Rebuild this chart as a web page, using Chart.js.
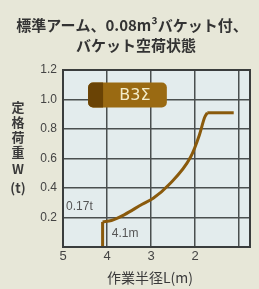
<!DOCTYPE html>
<html>
<head>
<meta charset="utf-8">
<script src="https://cdn.jsdelivr.net/npm/chart.js@4"></script>
<style>
  html, body { margin: 0; padding: 0; background: #e7e7d8; }
  #wrap { width: 259px; height: 289px; }
</style>
</head>
<body>
<div id="wrap"><canvas id="loadChart" width="259" height="289"></canvas></div>
<script>
// rated load vs working radius (B3 sigma)
var radiusCurve = [4.1, 3.9, 3.6, 3.2, 2.95, 2.6, 2.1, 1.9, 1.78, 1.72];
var loadCurve   = [0.17, 0.18, 0.22, 0.29, 0.33, 0.42, 0.61, 0.76, 0.88, 0.91];
var radiusStart = [4.1, 4.1];
var loadStart   = [0, 0.17];
var radiusFlat  = [1.72, 1.12];
var loadFlat    = [0.91, 0.91];
var xTicks = [5, 4, 3, 2, 1];
var yTicks = [0, 0.2, 0.4, 0.6, 0.8, 1.0, 1.2];

var titleLines = ['標準アーム、0.08m³バケット付、', 'バケット空荷状態'];
var yTitle = ['定', '格', '荷', '重', 'W', '(t)'];
var xTitle = '作業半径L(m)';

function pts(xs, ys) {
  return xs.map(function (x, i) { return { x: x, y: ys[i] }; });
}

var brown = '#8a5a0c';
var jp = '"Noto Sans CJK JP", "Noto Sans", sans-serif';

var decor = {
  id: 'decor',
  beforeDraw: function (chart) {
    var a = chart.chartArea, ctx = chart.ctx;
    ctx.save();
    ctx.fillStyle = '#e3eced';
    ctx.fillRect(a.left, a.top, a.right - a.left, a.bottom - a.top);
    ctx.restore();
  },
  afterDraw: function (chart) {
    var a = chart.chartArea, ctx = chart.ctx;
    var xs = chart.scales.x, ys = chart.scales.y;
    ctx.save();
    // frame
    ctx.strokeStyle = '#3a3d3d';
    ctx.lineWidth = 2;
    ctx.strokeRect(a.left, a.top, a.right - a.left, a.bottom - a.top);

    // title
    ctx.fillStyle = '#333';
    ctx.textAlign = 'center';
    ctx.textBaseline = 'middle';
    ctx.font = 'bold 15px ' + jp;
    ctx.fillText(titleLines[0], 132, 25);
    ctx.fillText(titleLines[1], 136, 45);

    // y title stacked
    ctx.font = 'bold 13px ' + jp;
    ctx.fillStyle = '#3a3a3a';
    var yy = [107, 122, 137, 152, 169, 188];
    yTitle.forEach(function (c, i) { ctx.fillText(c, 18, yy[i]); });

    // x title
    ctx.font = '14px ' + jp;
    ctx.fillText(xTitle, 150, 278);

    // badge
    var bl = xs.getPixelForValue(4.43), br = xs.getPixelForValue(2.64);
    var bt = ys.getPixelForValue(1.115), bb = ys.getPixelForValue(0.946);
    ctx.fillStyle = '#9a6a12';
    ctx.beginPath();
    ctx.roundRect(bl, bt, br - bl, bb - bt, 5);
    ctx.fill();
    ctx.fillStyle = '#6a4305';
    ctx.beginPath();
    ctx.roundRect(bl, bt, 15, bb - bt, [5, 0, 0, 5]);
    ctx.fill();
    ctx.fillStyle = '#f3ecc8';
    ctx.font = '16px "DejaVu Sans", sans-serif';
    ctx.fillText('B3Σ', (bl + 15 + br) / 2, (bt + bb) / 2 + 1);

    // value notes
    ctx.fillStyle = '#555';
    ctx.textAlign = 'left';
    ctx.font = '12px "Liberation Sans", sans-serif';
    ctx.fillText('0.17t', xs.getPixelForValue(4.93), ys.getPixelForValue(0.27));
    ctx.fillText('4.1m', xs.getPixelForValue(3.89), ys.getPixelForValue(0.09));
    ctx.restore();
  }
};

new Chart(document.getElementById('loadChart'), {
  type: 'scatter',
  data: {
    datasets: [
      { data: pts(radiusStart, loadStart), showLine: true, borderColor: brown, borderWidth: 3, pointRadius: 0, tension: 0 },
      { data: pts(radiusCurve, loadCurve), showLine: true, borderColor: brown, borderWidth: 3, pointRadius: 0, cubicInterpolationMode: 'monotone' },
      { data: pts(radiusFlat, loadFlat), showLine: true, borderColor: brown, borderWidth: 3, pointRadius: 0, tension: 0 }
    ]
  },
  options: {
    responsive: false,
    animation: false,
    layout: { padding: { left: 0, right: 9, top: 70, bottom: 0 } },
    plugins: { legend: { display: false }, tooltip: { enabled: false }, title: { display: false } },
    scales: {
      x: {
        type: 'linear',
        reverse: true,
        min: 0.75,
        max: 5,
        afterFit: function (s) { s.height = 42; },
        afterBuildTicks: function (s) { s.ticks = xTicks.map(function (v) { return { value: v }; }); },
        grid: { color: '#4a4f4f', lineWidth: 1.5, drawTicks: false },
        border: { display: false },
        ticks: {
          padding: 2,
          color: '#444',
          font: { size: 13, family: '"Liberation Sans", sans-serif' },
          callback: function (v) { return v === 1 ? '' : String(v); }
        }
      },
      y: {
        min: 0,
        max: 1.2,
        afterFit: function (s) { s.width = 63; },
        afterBuildTicks: function (s) { s.ticks = yTicks.map(function (v) { return { value: v }; }); },
        grid: { color: '#4a4f4f', lineWidth: 1.5, drawTicks: false },
        border: { display: false },
        ticks: {
          padding: 6,
          color: '#444',
          font: { size: 12, family: '"Liberation Sans", sans-serif' },
          callback: function (v) { return v === 0 ? '' : v.toFixed(1); }
        }
      }
    }
  },
  plugins: [decor]
});
</script>
</body>
</html>
